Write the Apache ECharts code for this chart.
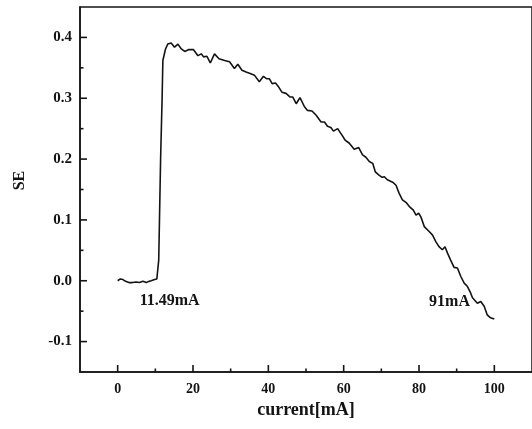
<!DOCTYPE html>
<html>
<head>
<meta charset="utf-8">
<script src="https://cdn.jsdelivr.net/npm/echarts@6/dist/echarts.min.js"></script>
<style>html,body{margin:0;padding:0;background:#fff;}#c{width:532px;height:429px;}</style>
</head>
<body>
<div id="c"></div>
<script>
// ---- data ----
var currentX = [0, 0.7, 1.4, 2.1, 3.0, 3.9, 4.9, 5.8, 6.7, 7.6, 8.3, 8.9, 9.8, 10.4, 10.9, 11.1, 11.4, 11.8, 12.0, 12.7, 13.3, 14.2, 15.1, 16.0, 16.9, 17.8, 18.9, 20.1, 21.3, 22.2, 22.8, 23.7, 24.6, 25.7, 26.9, 28.4, 29.7, 31.0, 31.9, 33.0, 34.1, 35.0, 36.3, 37.6, 38.7, 39.6, 40.3, 41.0, 41.9, 42.8, 43.6, 44.7, 45.8, 46.5, 47.4, 48.4, 49.6, 50.4, 51.6, 52.7, 54.0, 54.9, 55.7, 56.6, 57.3, 58.4, 59.6, 60.4, 61.5, 62.8, 64.0, 65.0, 65.9, 66.8, 67.7, 68.4, 69.3, 70.2, 70.8, 71.6, 73.0, 73.9, 74.7, 75.6, 76.7, 77.6, 78.5, 79.2, 79.9, 80.5, 81.4, 82.7, 83.6, 84.5, 85.3, 86.2, 86.9, 87.6, 88.4, 89.3, 90.2, 91.1, 92.0, 92.8, 93.7, 94.2, 95.5, 96.4, 97.3, 98.1, 99.0, 100.0];
var seValues = [0.000, 0.003, 0.002, -0.001, -0.003, -0.003, -0.002, -0.003, -0.001, -0.003, -0.001, 0.000, 0.002, 0.003, 0.034, 0.100, 0.200, 0.300, 0.362, 0.381, 0.389, 0.391, 0.384, 0.389, 0.381, 0.377, 0.380, 0.380, 0.370, 0.373, 0.368, 0.369, 0.358, 0.373, 0.365, 0.362, 0.360, 0.349, 0.356, 0.346, 0.343, 0.341, 0.338, 0.327, 0.336, 0.332, 0.332, 0.324, 0.325, 0.318, 0.310, 0.308, 0.302, 0.302, 0.291, 0.301, 0.286, 0.280, 0.279, 0.272, 0.261, 0.261, 0.254, 0.252, 0.246, 0.250, 0.239, 0.231, 0.226, 0.216, 0.219, 0.207, 0.203, 0.196, 0.193, 0.179, 0.174, 0.170, 0.171, 0.166, 0.162, 0.157, 0.144, 0.133, 0.128, 0.121, 0.116, 0.108, 0.111, 0.105, 0.089, 0.081, 0.075, 0.064, 0.056, 0.051, 0.056, 0.045, 0.034, 0.022, 0.021, 0.007, -0.004, -0.009, -0.020, -0.028, -0.037, -0.034, -0.042, -0.056, -0.061, -0.063];
var xMajorTicks = [0, 20, 40, 60, 80, 100];
var xMinorTicks = [10, 30, 50, 70, 90];
var yMajorTicks = [-0.1, 0.0, 0.1, 0.2, 0.3, 0.4];
var yMinorTicks = [-0.05, 0.05, 0.15, 0.25, 0.35];
var annotationTexts = ['11.49mA', '91mA'];
var annotationX = [13.8, 88.1];
var annotationY = [-0.033, -0.034];
var xName = 'current[mA]';
var yName = 'SE';
var X_MIN = -10, X_MAX = 110, Y_MIN = -0.15, Y_MAX = 0.45;

var seriesData = currentX.map(function (x, i) { return [x, seValues[i]]; });
var FONT = '"Liberation Serif", "Times New Roman", serif';
var INK = '#141414';

// tick marks: [x, y, direction(0 = x-axis tick, 1 = y-axis tick), length]
var tickData = []
  .concat(xMajorTicks.map(function (v) { return [v, Y_MIN, 0, 7]; }))
  .concat(xMinorTicks.map(function (v) { return [v, Y_MIN, 0, 3.5]; }))
  .concat(yMajorTicks.map(function (v) { return [X_MIN, v, 1, 7]; }))
  .concat(yMinorTicks.map(function (v) { return [X_MIN, v, 1, 3.5]; }));

var chart = echarts.init(document.getElementById('c'), null, { renderer: 'canvas' });
chart.setOption({
  animation: false,
  backgroundColor: '#fff',
  grid: { left: 80, top: 7, right: -1, bottom: 57, show: true, borderColor: INK, borderWidth: 1.5, containLabel: false },
  xAxis: {
    type: 'value', min: X_MIN, max: X_MAX, position: 'bottom',
    name: xName, nameLocation: 'middle', nameGap: 20,
    nameTextStyle: { fontFamily: FONT, fontWeight: 'bold', fontSize: 18, color: INK },
    axisLine: { show: true, onZero: false, lineStyle: { color: INK, width: 1.5 } },
    axisTick: { show: false },
    axisLabel: { show: true, customValues: xMajorTicks, margin: 10, fontFamily: FONT, fontWeight: 'bold', fontSize: 14, color: INK },
    splitLine: { show: false }
  },
  yAxis: {
    type: 'value', min: Y_MIN, max: Y_MAX, position: 'left',
    name: yName, nameLocation: 'middle', nameGap: 52, nameRotate: 90,
    nameTextStyle: { fontFamily: FONT, fontWeight: 'bold', fontSize: 16, color: INK, padding: [0, 0, 0, 18] },
    axisLine: { show: true, onZero: false, lineStyle: { color: INK, width: 1.5 } },
    axisTick: { show: false },
    axisLabel: { show: true, customValues: yMajorTicks, margin: 8, fontFamily: FONT, fontWeight: 'bold', fontSize: 15, color: INK,
      formatter: function (v) { return v.toFixed(1); } },
    splitLine: { show: false }
  },
  series: [{
    type: 'custom',
    silent: true,
    clip: false,
    data: tickData,
    renderItem: function (params, api) {
      var p = api.coord([api.value(0), api.value(1)]);
      var dir = api.value(2), len = api.value(3);
      var x1 = p[0], y1 = p[1], x2 = dir === 0 ? x1 : x1 + len, y2 = dir === 0 ? y1 - len : y1;
      return { type: 'line', shape: { x1: x1, y1: y1, x2: x2, y2: y2 }, style: { stroke: INK, lineWidth: 1.6 } };
    }
  }, {
    type: 'line',
    data: seriesData,
    showSymbol: false,
    symbol: 'none',
    lineStyle: { color: INK, width: 1.6 },
    markPoint: {
      symbol: 'circle', symbolSize: 0,
      label: { show: true, position: 'inside', fontFamily: FONT, fontWeight: 'bold', fontSize: 16, color: INK },
      data: annotationTexts.map(function (t, i) {
        return { coord: [annotationX[i], annotationY[i]], value: t, label: { formatter: t } };
      })
    }
  }]
});
</script>
</body>
</html>
